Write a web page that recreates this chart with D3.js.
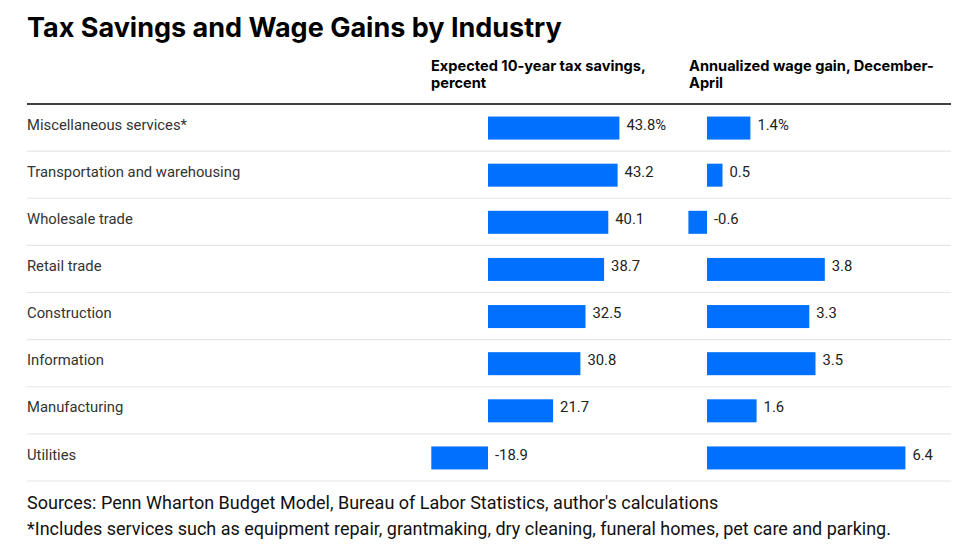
<!DOCTYPE html>
<html><head><meta charset="utf-8">
<script src="https://cdn.jsdelivr.net/npm/d3@7"></script>
<style>body{margin:0;background:#fff}</style>
</head><body>
<svg id="c" width="959" height="556"></svg>
<script>
const categories = ["Miscellaneous services*","Transportation and warehousing","Wholesale trade","Retail trade","Construction","Information","Manufacturing","Utilities"];
const taxSavings = [43.8,43.2,40.1,38.7,32.5,30.8,21.7,-18.9];
const wageGain = [1.4,0.5,-0.6,3.8,3.3,3.5,1.6,6.4];
const headers = [["Expected 10-year tax savings,","percent"],["Annualized wage gain, December-","April"]];
const title = "Tax Savings and Wage Gains by Industry";
const notes = ["Sources: Penn Wharton Budget Model, Bureau of Labor Statistics, author's calculations","*Includes services such as equipment repair, grantmaking, dry cleaning, funeral homes, pet care and parking."];

const svg = d3.select("#c");
const mLeft = 27, mRight = 951, mTop = 104, mBottom = 481;
const blue = "#0070ff";

svg.append("text").attr("x", mLeft).attr("y", 37).text(title)
  .attr("font-family","Inter, Roboto, sans-serif").attr("font-weight",700).attr("font-size",27).attr("fill","#000");

const y = d3.scaleBand().domain(categories).range([mTop, mBottom]);
const x1 = d3.scaleLinear().domain([-20, 45]).range([428, 623]);
const x2 = d3.scaleLinear().domain([-1, 7]).range([676, 924]);

[431, 689].forEach((px,i)=>{
  const t = svg.append("text").attr("font-family","Inter, Roboto, sans-serif").attr("font-weight",700).attr("font-size",14.6).attr("fill","#000");
  headers[i].forEach((line,j)=>t.append("tspan").attr("x",px).attr("y",71+j*17).text(line));
});

svg.append("line").attr("x1",mLeft).attr("x2",mRight).attr("y1",mTop).attr("y2",mTop).attr("stroke","#000").attr("stroke-width",1.3);

svg.selectAll("line.sep").data(categories).join("line").attr("class","sep")
  .attr("x1",mLeft).attr("x2",mRight)
  .attr("y1",d=>y(d)+y.bandwidth()).attr("y2",d=>y(d)+y.bandwidth())
  .attr("stroke","#e6e6e6").attr("stroke-width",1.2);

const rowC = d => y(d) + y.bandwidth()/2;
const bh = 23;

svg.selectAll("text.cat").data(categories).join("text").attr("class","cat")
  .attr("x",mLeft).attr("y",d=>rowC(d)-3).attr("dy","0.35em").text(d=>d)
  .attr("font-family","Roboto, 'Liberation Sans', sans-serif").attr("font-size",14.8).attr("fill","#333");

function drawCol(vals, x, cls){
  const data = categories.map((c,i)=>({c, v: vals[i], i}));
  svg.selectAll("rect."+cls).data(data).join("rect").attr("class",cls)
    .attr("x",d=>x(Math.min(0,d.v))).attr("width",d=>Math.abs(x(d.v)-x(0)))
    .attr("y",d=>rowC(d.c)-bh/2+0.5).attr("height",bh).attr("fill",blue);
  svg.selectAll("text."+cls).data(data).join("text").attr("class",cls)
    .attr("x",d=>Math.max(x(d.v),x(0))+7).attr("y",d=>rowC(d.c)-3).attr("dy","0.35em")
    .text(d=>d.v.toFixed(1)+(d.i===0?"%":""))
    .attr("font-family","Roboto, 'Liberation Sans', sans-serif").attr("font-size",14.8).attr("fill","#222");
}
drawCol(taxSavings, x1, "tax");
drawCol(wageGain, x2, "wage");

notes.forEach((n,i)=>svg.append("text").attr("x",mLeft).attr("y",509+i*26).text(n)
  .attr("font-family","Roboto, sans-serif").attr("font-size",18).attr("fill","#111"));
</script>
</body></html>
